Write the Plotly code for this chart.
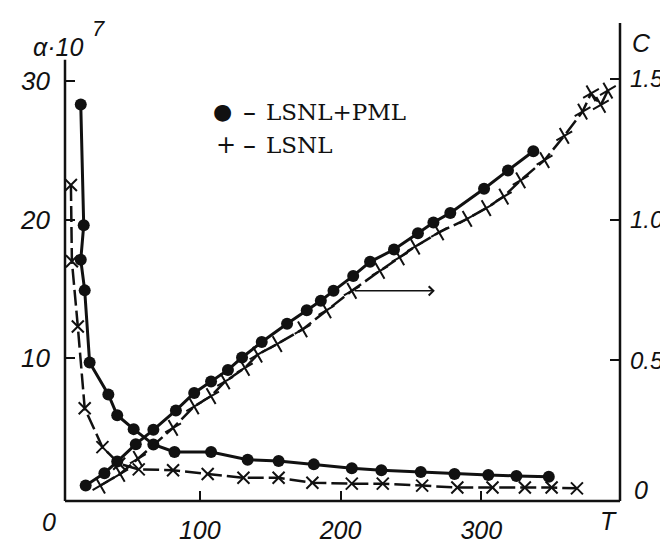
import plotly.graph_objects as go

# ---- data ----
T_alpha_pml = [15.4, 17.5, 15.4, 18.2, 21.7, 35, 41.3, 53, 67, 82, 108, 134, 156, 181, 208, 229, 257, 281, 305, 325, 348]
alpha_pml = [28.3, 19.6, 17.1, 14.9, 9.7, 7.4, 5.9, 4.9, 3.8, 3.25, 3.25, 2.7, 2.6, 2.36, 2.08, 1.94, 1.81, 1.67, 1.6, 1.53, 1.46]

T_alpha_lsnl = [8.4, 9.1, 13.3, 18.2, 30.8, 42.7, 56.6, 81, 105.6, 131, 156, 180, 208, 230, 258, 283, 308, 331, 350, 368]
alpha_lsnl = [22.5, 17.0, 12.3, 6.4, 3.6, 2.4, 2.0, 1.94, 1.67, 1.39, 1.39, 1.04, 0.97, 0.97, 0.83, 0.69, 0.69, 0.69, 0.69, 0.63]

T_C_pml = [18.9, 32.2, 41.3, 54.5, 67, 83, 96, 108, 120, 130, 144, 162, 176, 186, 195, 209, 221, 238, 255, 266, 278, 302, 319, 337]
C_pml = [0.055, 0.099, 0.14, 0.202, 0.253, 0.322, 0.384, 0.425, 0.466, 0.51, 0.565, 0.63, 0.678, 0.712, 0.747, 0.80, 0.85, 0.894, 0.952, 0.99, 1.024, 1.11, 1.175, 1.243]

T_C_lsnl = [29.4, 43.4, 56, 81, 96, 108, 118, 132, 141, 155, 173, 190, 208, 228, 242, 253, 270, 290, 303.5, 316, 328, 345, 359, 372, 378, 385, 390]
C_lsnl = [0.055, 0.096, 0.15, 0.26, 0.336, 0.373, 0.425, 0.473, 0.52, 0.558, 0.61, 0.678, 0.747, 0.818, 0.866, 0.904, 0.955, 1.003, 1.041, 1.082, 1.14, 1.212, 1.298, 1.384, 1.449, 1.408, 1.459]

x_ticks = [100, 200, 300]
y_ticks = [10, 20, 30]
y2_ticks = [0.5, 1.0, 1.5]
y2_ticktext = ["0.5", "1.0", "1.5"]

INK = "#111111"
FAMILY = "Liberation Sans, Arial, sans-serif"


def tf(size):
    return dict(family=FAMILY, size=size, color=INK, style="italic")


fig = go.Figure()

fig.add_trace(go.Scatter(x=T_alpha_pml, y=alpha_pml, mode="lines+markers",
                         line=dict(color=INK, width=3),
                         marker=dict(symbol="circle", size=12, color=INK),
                         yaxis="y", showlegend=False))
fig.add_trace(go.Scatter(x=T_alpha_lsnl, y=alpha_lsnl, mode="lines+markers",
                         line=dict(color=INK, width=2.5, dash="16px,5px"),
                         marker=dict(symbol="x-thin", size=12, line=dict(color=INK, width=2)),
                         yaxis="y", showlegend=False))
fig.add_trace(go.Scatter(x=T_C_pml, y=C_pml, mode="lines+markers",
                         line=dict(color=INK, width=3),
                         marker=dict(symbol="circle", size=12, color=INK),
                         yaxis="y2", showlegend=False))
fig.add_trace(go.Scatter(x=T_C_lsnl, y=C_lsnl, mode="lines+markers",
                         line=dict(color=INK, width=2.5, dash="16px,5px"),
                         marker=dict(symbol="cross-thin", size=13, angle=-30,
                                     line=dict(color=INK, width=2)),
                         yaxis="y2", showlegend=False))

axis_common = dict(showgrid=False, zeroline=False, showline=False, ticks="inside",
                   ticklen=10, tickwidth=2, tickcolor=INK)

fig.update_layout(
    width=668, height=548,
    margin=dict(l=57, r=47, t=15, b=37),
    paper_bgcolor="white", plot_bgcolor="white",
    xaxis=dict(range=[4.2, 398.6], tickvals=x_ticks, ticklabelstandoff=12,
               tickfont=tf(25), **axis_common),
    yaxis=dict(range=[-0.28, 34.17], tickvals=y_ticks, ticklabelstandoff=14,
               tickfont=tf(26), **axis_common),
    yaxis2=dict(range=[0, 1.699], tickvals=y2_ticks, ticktext=y2_ticktext,
                overlaying="y", side="right", anchor="x", ticklabelstandoff=9,
                tickfont=tf(24), **axis_common),
)

# axis frame lines
for s in [dict(x0=0, x1=0, y0=0, y1=0.923), dict(x0=1, x1=1, y0=0, y1=1.0),
          dict(x0=0, x1=1, y0=0, y1=0)]:
    fig.add_shape(type="line", xref="paper", yref="paper", line=dict(color=INK, width=2.5), **s)


def px_x(px):
    return (px - 57) / 564


def px_y(py):
    return (511 - py) / 496


ann = [
    dict(x=px_x(41), y=px_y(533), text="0"),
    dict(x=px_x(609), y=px_y(532), text="T"),
    dict(x=px_x(642), y=px_y(500), text="0"),
    dict(x=px_x(643), y=px_y(36), text="C"),
    dict(x=px_x(50), y=px_y(40), text="α·10"),
]
for a in ann:
    fig.add_annotation(xref="paper", yref="paper", showarrow=False, font=tf(25),
                       xanchor="center", yanchor="middle", **a)
fig.add_annotation(xref="paper", yref="paper", showarrow=False, font=tf(22),
                   x=px_x(91), y=px_y(21), text="7", xanchor="center", yanchor="middle")

# legend (as text)
serif = dict(family="DejaVu Serif, Liberation Serif, serif", size=23, color=INK)
leg_y = [px_y(107), px_y(142)]
fig.add_annotation(xref="paper", yref="paper", x=px_x(217), y=leg_y[0], text="●",
                   showarrow=False, font=dict(family="DejaVu Sans", size=22, color=INK),
                   xanchor="center", yanchor="middle")
fig.add_annotation(xref="paper", yref="paper", x=px_x(221), y=leg_y[1], text="+",
                   showarrow=False, font=dict(family="DejaVu Sans", size=24, color=INK),
                   xanchor="center", yanchor="middle")
for yy in leg_y:
    fig.add_annotation(xref="paper", yref="paper", x=px_x(244), y=yy, text="–",
                       showarrow=False, font=dict(family="DejaVu Sans", size=26, color=INK),
                       xanchor="center", yanchor="middle")
fig.add_annotation(xref="paper", yref="paper", x=px_x(259), y=leg_y[0], text="LSNL+PML",
                   showarrow=False, font=serif, xanchor="left", yanchor="middle")
fig.add_annotation(xref="paper", yref="paper", x=px_x(259), y=leg_y[1], text="LSNL",
                   showarrow=False, font=serif, xanchor="left", yanchor="middle")

# arrow pointing to the right axis
fig.add_annotation(x=267, y=0.747, xref="x", yref="y2", ax=209, ay=0.747, axref="x", ayref="y2",
                   showarrow=True, arrowhead=4, arrowsize=1.2, arrowwidth=1.5, arrowcolor=INK, text="")

fig.write_html("out.html")
